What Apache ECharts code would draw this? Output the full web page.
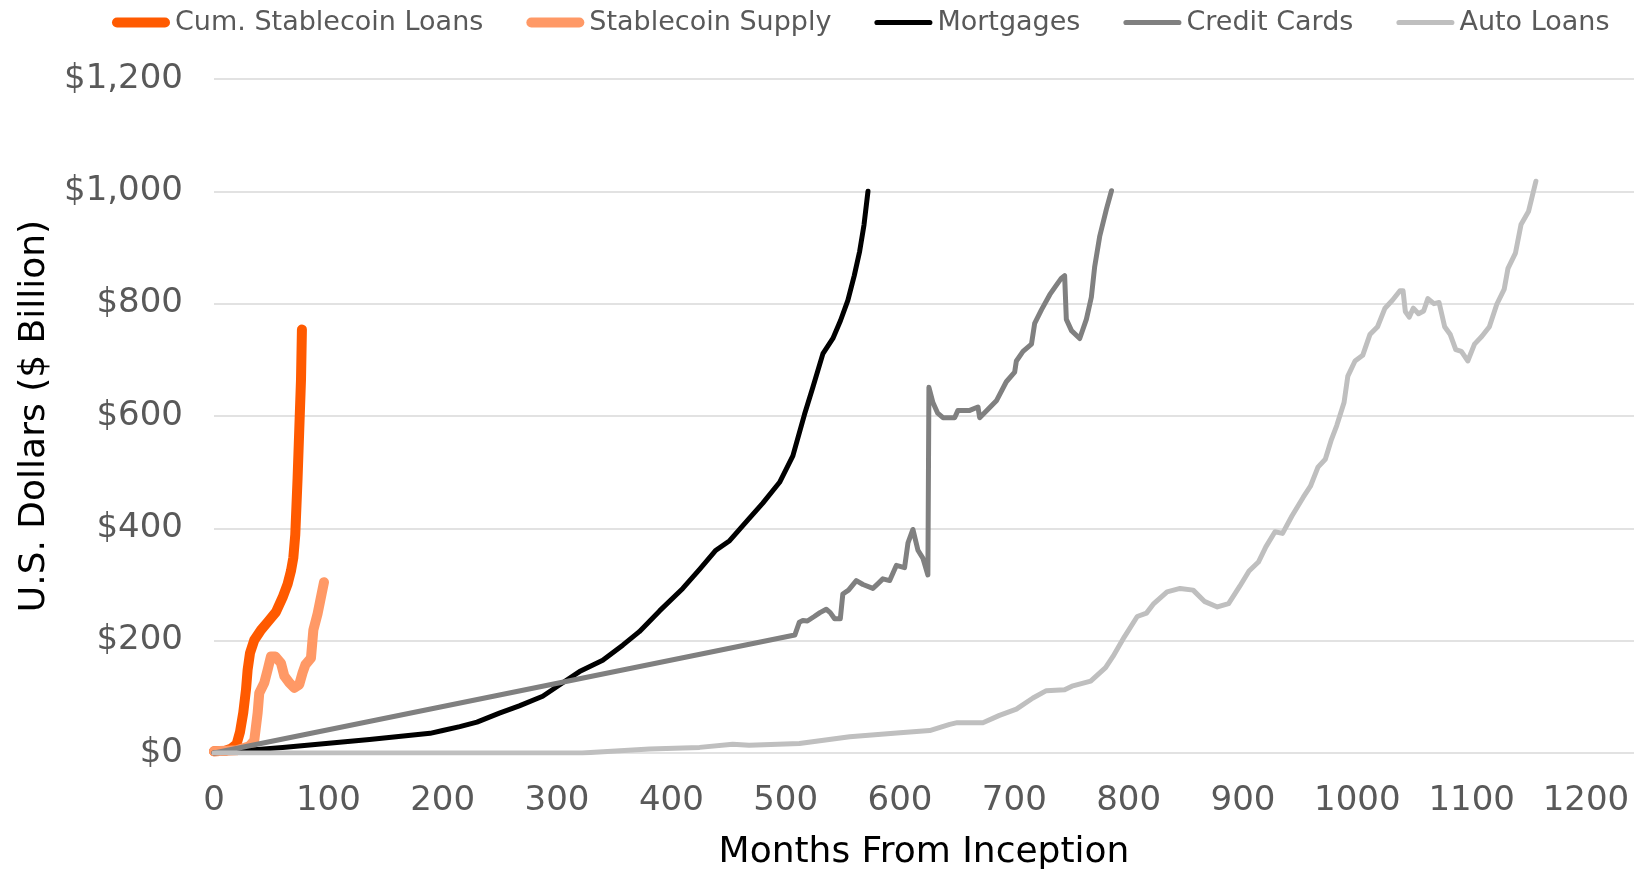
<!DOCTYPE html>
<html>
<head>
<meta charset="utf-8">
<script src="https://cdn.jsdelivr.net/npm/echarts@6/dist/echarts.min.js"></script>
<style>
html,body{margin:0;padding:0;background:#fff;}
#chart{width:1634px;height:876px;}
</style>
</head>
<body>
<div id="chart"></div>
<script>
const seriesNames = ['Cum. Stablecoin Loans', 'Stablecoin Supply', 'Mortgages', 'Credit Cards', 'Auto Loans'];
const xTicks = [0, 100, 200, 300, 400, 500, 600, 700, 800, 900, 1000, 1100, 1200];
const yTicks = [0, 200, 400, 600, 800, 1000, 1200];

const loansMonths = [0, 10, 14.8, 19.8, 22.7, 25.6, 28, 29.4, 31.5, 35.2, 41.1, 46.9, 54.2, 60, 64.4, 67.3, 69.4, 71.1, 73.1, 74.6, 76.1, 76.9];
const loansValues = [3, 4, 7.6, 16, 37, 72, 113, 148, 178, 201, 219, 233, 251, 277, 301, 324, 348, 389, 489, 577, 665, 754];

const supplyMonths = [0, 20, 30.9, 35.2, 38.2, 39.6, 44, 46.9, 49.8, 53.6, 58.6, 61.5, 65.9, 70.2, 74.6, 77.5, 79.9, 84.8, 86.9, 90.6, 94.1, 96.2];
const supplyValues = [3, 5, 12, 22, 72, 107, 125, 148, 172, 172, 160, 137, 125, 116, 122, 143, 157, 169, 219, 248, 283, 304];

const mortMonths = [0, 60, 136, 189, 200, 215, 230, 249.6, 267, 287.5, 305, 319.7, 340, 357.5, 372, 389.7, 410, 424.7, 439, 451, 467, 480, 494.7, 506.3, 516.5, 523.8, 532.6, 541.3, 548, 554.4, 560, 564.7, 568.5, 572];
const mortValues = [0, 10, 24, 35, 40, 47, 55, 71, 84, 101, 125, 145, 165, 192, 216, 253, 293, 327, 361, 378, 415, 445, 482, 529, 603, 651, 711, 738, 770, 806, 850, 893, 940, 1000];

const cardMonths = [0, 508, 512, 515, 519, 525, 530, 535.5, 539, 542.8, 547.8, 550, 555, 561.8, 567.6, 576.3, 581, 585, 591, 596.8, 604, 607, 611.3, 615.7, 620, 624.4, 625.3, 628.8, 633, 637.6, 647.8, 650.7, 661, 668.2, 669.7, 684.3, 693, 700.3, 701.8, 707.6, 715, 717.8, 723.7, 731, 736.8, 741, 744, 745.5, 750, 757.2, 763, 767.4, 770.3, 774.7, 780.5, 785];
const cardValues = [0, 210, 233, 236, 235, 243, 250, 256, 250, 239, 239, 283, 290, 307, 300, 293, 302, 310, 307, 334, 330, 374, 398, 361, 347, 317, 651, 624, 605, 597, 597, 610, 610, 616, 597, 627, 661, 678, 698, 715, 728, 765, 789, 816, 833, 845, 850, 772, 752, 738, 772, 812, 866, 920, 968, 1001];

const autoMonths = [0, 322, 381, 424.7, 453.7, 468, 512, 556, 600, 626, 643.5, 650, 672.5, 687, 701.8, 716.3, 728, 744, 750.4, 766.8, 779.8, 786.3, 796, 807.5, 815.6, 822, 833.6, 845, 856.4, 866.2, 877.6, 887.4, 897.2, 905.3, 913.5, 920, 928, 934.6, 942.8, 952.6, 959, 965.6, 972, 977, 982, 988.4, 991.7, 998, 1004.7, 1011, 1017.7, 1024.2, 1030.7, 1037.3, 1040, 1042, 1045.4, 1049, 1053.5, 1058, 1061.7, 1067, 1071.5, 1076.4, 1081.3, 1086.1, 1091, 1096.6, 1102.5, 1109, 1115.5, 1122, 1128.5, 1131.8, 1138.3, 1143.2, 1149.7, 1156.2];
const autoValues = [0, 0, 7, 10, 15.5, 14, 17, 29, 36, 40, 51, 54, 54, 67, 78, 98, 111, 112.6, 119, 128, 152, 172, 206, 243, 249, 266, 287, 293, 290, 270, 260, 266, 297, 324, 340, 367, 394, 391, 422, 455, 475, 509, 523, 556, 583, 624, 671, 698, 708, 745, 759, 792, 806, 823, 823, 786, 776, 792, 782, 787, 809, 800, 802, 759, 745, 718, 715, 698, 728, 742, 759, 799, 826, 863, 890, 941, 964, 1018];

function zip(xs, ys) { return xs.map((x, i) => [x, ys[i]]); }

const colors = ['#FF5A00', '#FF9966', '#000000', '#808080', '#BFBFBF'];
const widths = [10, 10, 5, 5, 5];
const datasets = [zip(loansMonths, loansValues), zip(supplyMonths, supplyValues), zip(mortMonths, mortValues), zip(cardMonths, cardValues), zip(autoMonths, autoValues)];

// rounded-bar legend icons: thick for stablecoin series, thinner for the rest
const thickIcon = 'path://M5,0 H53 A5,5 0 0 1 53,10 H5 A5,5 0 0 1 5,0 Z';
const thinIcon = 'path://M2.5,0 H53.5 A2.5,2.5 0 0 1 53.5,5 H2.5 A2.5,2.5 0 0 1 2.5,0 Z';

const FONT = 'DejaVu Sans';
const chart = echarts.init(document.getElementById('chart'), null, {renderer: 'canvas'});
chart.setOption({
  animation: false,
  backgroundColor: '#ffffff',
  textStyle: {fontFamily: FONT},
  legend: {
    left: 107, top: 4,
    itemWidth: 58, itemHeight: 14, itemGap: 43,
    textStyle: {fontFamily: FONT, fontSize: 27, color: '#595959'},
    data: seriesNames.map((n, i) => ({name: n, icon: widths[i] > 6 ? thickIcon : thinIcon, itemStyle: {color: colors[i]}}))
  },
  grid: {left: 214, right: 0, top: 79, bottom: 115, containLabel: false},
  xAxis: {
    type: 'value', min: 0, max: 1242, interval: 100,
    name: 'Months From Inception', nameLocation: 'middle', nameGap: 82,
    nameTextStyle: {fontFamily: FONT, fontSize: 36, color: '#000'},
    axisLine: {show: false}, axisTick: {show: false}, splitLine: {show: false},
    axisLabel: {fontFamily: FONT, fontSize: 34, color: '#595959', margin: 31, showMaxLabel: false,
      formatter: v => xTicks.includes(v) ? String(v) : ''}
  },
  yAxis: {
    type: 'value', min: 0, max: 1200, interval: 200,
    name: 'U.S. Dollars ($ Billion)', nameLocation: 'middle', nameGap: 161,
    nameTextStyle: {fontFamily: FONT, fontSize: 36, color: '#000'},
    axisLine: {show: false}, axisTick: {show: false},
    splitLine: {lineStyle: {color: '#D9D9D9', width: 1.5}},
    axisLabel: {fontFamily: FONT, fontSize: 34, color: '#595959', margin: 31, padding: [5, 0, 0, 0],
      formatter: v => yTicks.includes(v) ? '$' + v.toLocaleString('en-US') : ''}
  },
  series: seriesNames.map((n, i) => ({
    name: n, type: 'line', data: datasets[i], symbol: 'none', smooth: false,
    color: colors[i],
    lineStyle: {color: colors[i], width: widths[i], cap: 'round', join: 'round'},
    z: 2 + i
  }))
});
</script>
</body>
</html>
